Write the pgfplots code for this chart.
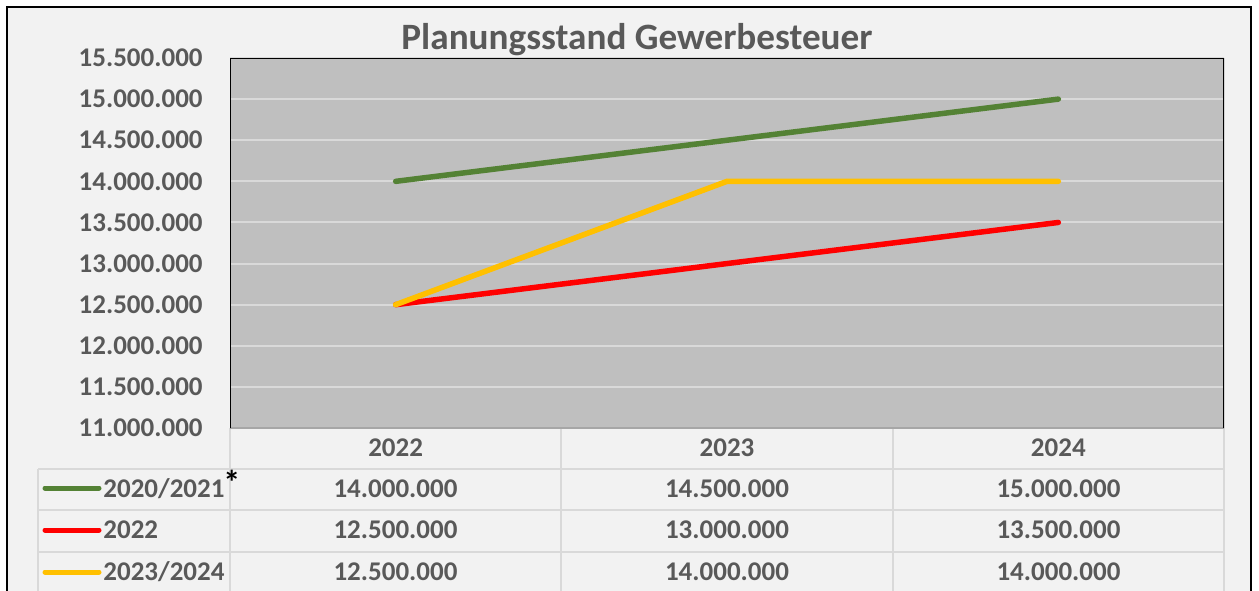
\documentclass[border=0pt]{standalone}
\usepackage{pgfplots}
\pgfplotsset{compat=1.18}
\usepackage{fontspec}
\setmainfont{Carlito}
\definecolor{bgc}{HTML}{F2F2F2}
\definecolor{plotc}{HTML}{BFBFBF}
\definecolor{gridc}{HTML}{D9D9D9}
\definecolor{txt}{HTML}{595959}
\definecolor{axc}{HTML}{A6A6A6}
\definecolor{grn}{HTML}{548235}
\definecolor{rd}{HTML}{FF0000}
\definecolor{ylw}{HTML}{FFC000}
\newcommand\tfont{\bfseries\fontsize{13.5}{16}\selectfont}
\begin{document}
\begin{tikzpicture}[x=0.5pt,y=-0.5pt]
\clip (0,0) rectangle (1259,590);
\fill[white] (0,0) rectangle (1259,590);
\filldraw[fill=bgc, draw=black, line width=1pt] (6.5,6.5) rectangle (1251,620);
% table grid
\begin{scope}[draw=gridc, line width=1pt]
\draw (38,469) -- (1224,469);
\draw (38,510) -- (1224,510);
\draw (38,551.5) -- (1224,551.5);
\draw (38,469) -- (38,600);
\draw (230,428) -- (230,600);
\draw (561,428) -- (561,600);
\draw (893,428) -- (893,600);
\draw (1224,428) -- (1224,600);
\end{scope}
\begin{axis}[
  at={(115pt,-214pt)}, anchor=south west,
  width=497pt, height=185pt, scale only axis,
  xmin=-0.5, xmax=2.5, ymin=11000000, ymax=15500000,
  xtick={0,1,2}, xticklabels={2022,2023,2024},
  ytick={11000000,11500000,12000000,12500000,13000000,13500000,14000000,14500000,15000000,15500000},
  scaled y ticks=false,
  tick label style={font=\tfont, text=txt, inner sep=0pt},
  yticklabel style={/pgf/number format/fixed, /pgf/number format/1000 sep={.}, /pgf/number format/assume math mode=true, anchor=east, xshift=-13.5pt},
  xticklabel style={anchor=center, yshift=-10pt},
  major tick length=0pt,
  ymajorgrids, grid style={gridc, line width=1pt},
  axis background/.style={fill=plotc},
  axis line style={draw=none},
  every axis plot/.append style={line width=2.75pt, line cap=round, line join=round, mark=none},
]
\addplot[grn] coordinates {(0,14000000) (1,14500000) (2,15000000)};
\addplot[rd] coordinates {(0,12500000) (1,13000000) (2,13500000)};
\addplot[ylw] coordinates {(0,12500000) (1,14000000) (2,14000000)};
\draw[axc, line width=0.75pt] (rel axis cs:0,0) -- (rel axis cs:1,0);
\draw[black, line width=0.75pt] (rel axis cs:0,0) -- (rel axis cs:0,1) -- (rel axis cs:1,1) -- (rel axis cs:1,0);
\end{axis}
% title
\node[font=\bfseries\fontsize{18.6}{22}\selectfont, text=txt, anchor=base] at (637,49) {Planungsstand Gewerbesteuer};
% legend column
\draw[grn, line width=2.5pt, line cap=round] (45,488) -- (99,488);
\draw[rd, line width=2.5pt, line cap=round] (45,530) -- (99,530);
\draw[ylw, line width=2.5pt, line cap=round] (45,572) -- (99,572);
\begin{scope}[every node/.style={font=\tfont, text=txt, inner sep=0pt}]
\node[anchor=base west] at (103,497) {2020/2021};
\node[anchor=base west] at (103,538) {2022};
\node[anchor=base west] at (103,580) {2023/2024};
\node[anchor=base] at (395.5,497) {14.000.000};
\node[anchor=base] at (727,497) {14.500.000};
\node[anchor=base] at (1058.5,497) {15.000.000};
\node[anchor=base] at (395.5,538) {12.500.000};
\node[anchor=base] at (727,538) {13.000.000};
\node[anchor=base] at (1058.5,538) {13.500.000};
\node[anchor=base] at (395.5,580) {12.500.000};
\node[anchor=base] at (727,580) {14.000.000};
\node[anchor=base] at (1058.5,580) {14.000.000};
\end{scope}
\node[font=\bfseries\fontsize{17}{20}\selectfont, text=black, inner sep=0pt, anchor=north west] at (223,470) {*};
\end{tikzpicture}
\end{document}
